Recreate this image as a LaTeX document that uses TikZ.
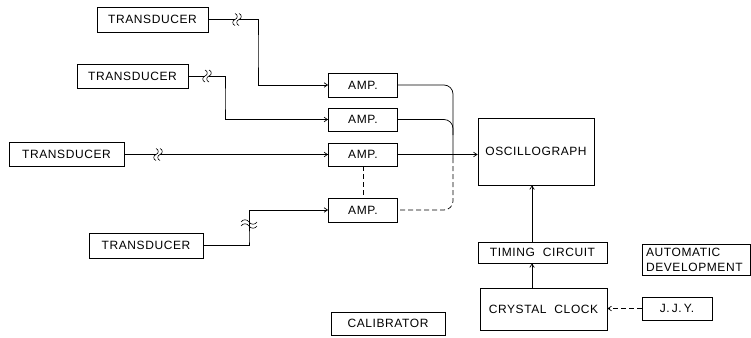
\documentclass[tikz,border=0pt]{standalone}
\usepackage{fontspec}
\setmainfont{Liberation Sans}[LetterSpace=5]
\usetikzlibrary{arrows.meta}
\begin{document}
\begin{tikzpicture}[x=1pt,y=-1pt, line width=0.7pt,
  box/.style={draw, inner sep=0pt, font=\fontsize{12}{15}\selectfont},
  wire/.style={-{Straight Barb[length=3.5pt,width=4.5pt]}},
  dsh/.style={dash pattern=on 5pt off 3pt},
  vbreak/.pic={\draw[line width=0.6pt] (-2,-6) .. controls (1,-5) and (1,-1) .. (-2,0) .. controls (-5,1) and (-5,5) .. (-2,6);
               \draw[line width=0.6pt] (2,-6) .. controls (5,-5) and (5,-1) .. (2,0) .. controls (-1,1) and (-1,5) .. (2,6);},
  hbreak/.pic={\draw[line width=0.6pt] (-8,-2) .. controls (-6,-5) and (-2,-5) .. (0,-2) .. controls (2,1) and (6,1) .. (8,-2);
               \draw[line width=0.6pt] (-8,2) .. controls (-6,-1) and (-2,-1) .. (0,2) .. controls (2,5) and (6,5) .. (8,2);}]
\useasboundingbox (0,0) rectangle (751,337);

% transducers
\node[box, minimum width=111, minimum height=25] (T1) at (152.5,19.5) {TRANSDUCER};
\node[box, minimum width=111, minimum height=24] (T2) at (132.5,76) {TRANSDUCER};
\node[box, minimum width=115, minimum height=24] (T3) at (66.5,154.5) {TRANSDUCER};
\node[box, minimum width=114, minimum height=25] (T4) at (146,245.5) {TRANSDUCER};

% amplifiers
\node[box, minimum width=69, minimum height=24] (A1) at (363,85) {AMP.};
\node[box, minimum width=69, minimum height=23] (A2) at (363,119.5) {AMP.};
\node[box, minimum width=69, minimum height=23] (A3) at (363,154.5) {AMP.};
\node[box, minimum width=69, minimum height=24] (A4) at (363,210) {AMP.};

% right side
\node[box, minimum width=116, minimum height=67] (Osc) at (536,151.5) {OSCILLOGRAPH};
\node[box, minimum width=129, minimum height=21] (Tim) at (542.5,252.5) {TIMING\ \ CIRCUIT};
\node[box, minimum width=127, minimum height=42] (Cry) at (543.5,309) {CRYSTAL\ \ CLOCK};
\node[box, minimum width=70, minimum height=23] (JJY) at (677,308.5) {J.\,J.\,Y.};
\node[box, text width=100, inner xsep=4, inner ysep=4, align=left] (Aut) at (696,260) {AUTOMATIC\\DEVELOPMENT};
\node[box, minimum width=114, minimum height=23] (Cal) at (388,323.5) {CALIBRATOR};

% break points and corners
\coordinate (b1) at (237,19.5);
\coordinate (c1) at (258,50);
\coordinate (b2) at (207,76);
\coordinate (c2) at (225,100);
\coordinate (b3) at (158,154.5);
\coordinate (c4) at (249,240);
\coordinate (b4) at (249,224);
\coordinate (bus1) at (453,158);
\coordinate (bus2) at (453,135);
\coordinate (vx) at (532,0);

% transducer 1
\draw (T1.east) -- ([xshift=-2pt]b1);
\draw[wire] ([xshift=2pt]b1) -| (c1) |- (A1.west);
\pic at (b1) {vbreak};
% transducer 2
\draw (T2.east) -- ([xshift=-2pt]b2);
\draw[wire] ([xshift=2pt]b2) -| (c2) |- (A2.west);
\pic at (b2) {vbreak};
% transducer 3
\draw (T3.east) -- ([xshift=-2pt]b3);
\draw[wire] ([xshift=2pt]b3) -- (A3.west);
\pic at (b3) {vbreak};
% transducer 4
\draw (T4.east) -| (c4) -- ([yshift=2pt]b4);
\draw[wire] ([yshift=-2pt]b4) |- (A4.west);
\pic at (b4) {hbreak};

% amp dashed link
\draw[dsh] (A3.south) -- (A4.north);

% outputs to bus
\draw[rounded corners=9] (A1.east) -| (bus1);
\draw[rounded corners=9] (A2.east) -| (bus2);
\draw[dsh, rounded corners=9] (bus1) |- (A4.east);
\draw[wire] (A3.east) -- (A3.east -| Osc.west);

% timing chain
\draw[wire] (Tim.north -| vx) -- (Osc.south -| vx);
\draw[wire] (Cry.north -| vx) -- (Tim.south -| vx);
\draw[wire, dsh] (JJY.west) -- (JJY.west -| Cry.east);
\end{tikzpicture}
\end{document}
